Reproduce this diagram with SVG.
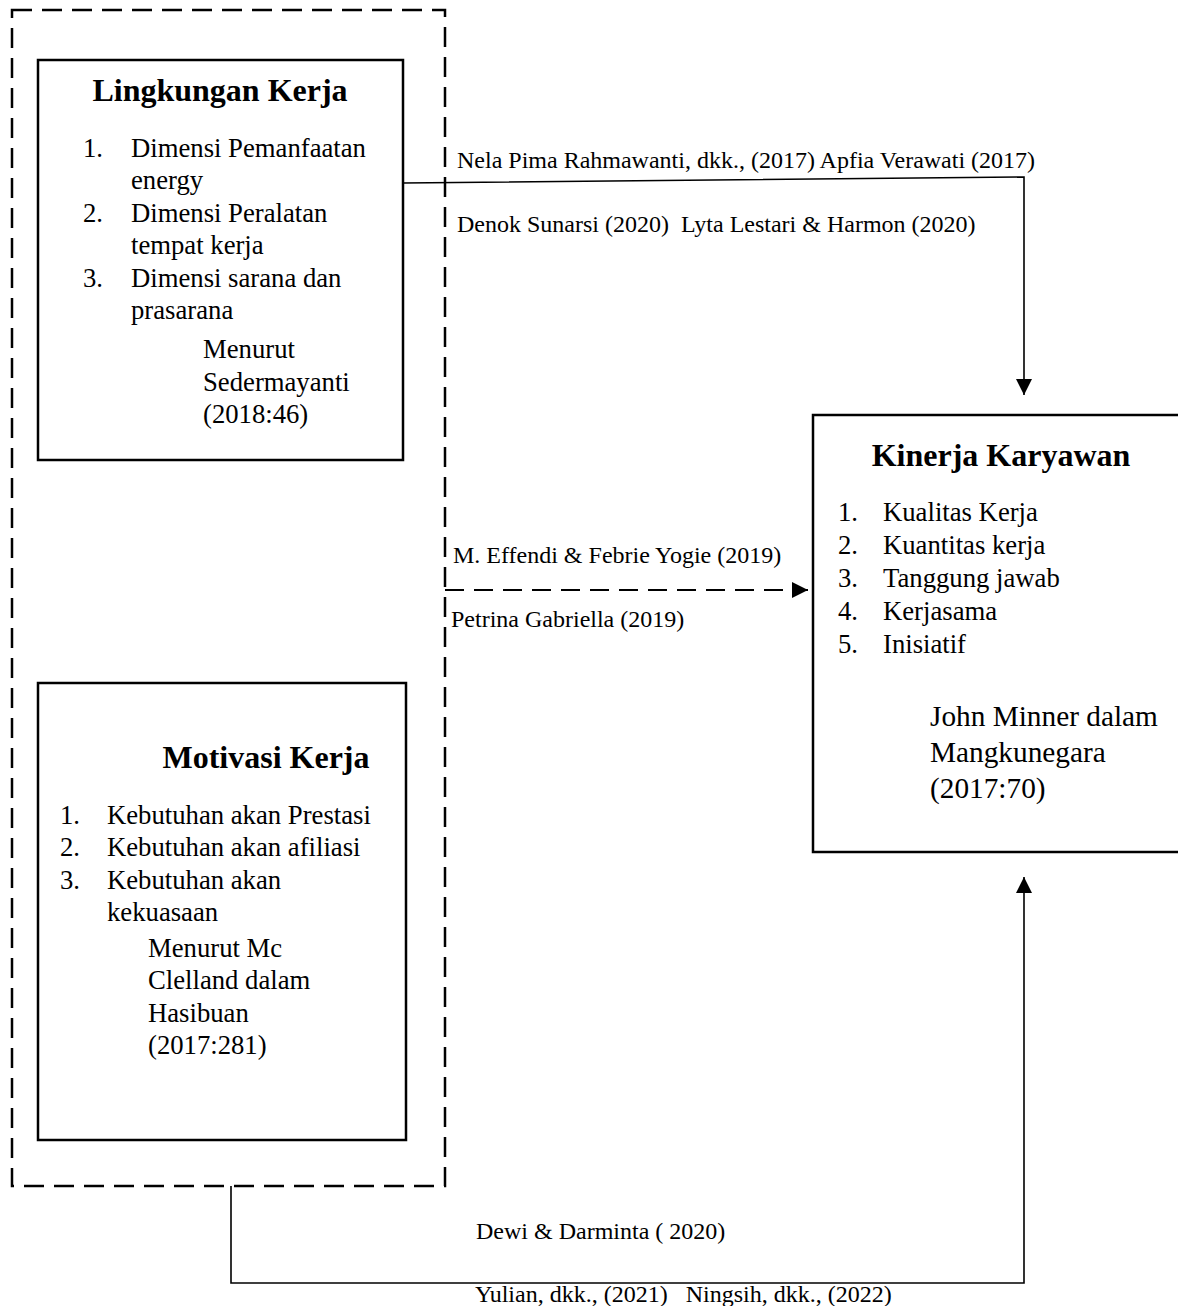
<svg xmlns="http://www.w3.org/2000/svg" width="1178" height="1306" viewBox="0 0 1178 1306">
<style>
text{font-family:"Liberation Serif","Times New Roman",serif;fill:#000}
.title{font-size:32px;font-weight:bold}
.body{font-size:26.7px}
.src{font-size:29.3px}
.lbl{font-size:24px}
.box{fill:#fff;stroke:#000;stroke-width:2.5}
.conn{fill:none;stroke:#000;stroke-width:1.6}
</style>
<defs>
<marker id="ah" markerUnits="userSpaceOnUse" markerWidth="18" markerHeight="16" refX="16" refY="8" orient="auto">
<path d="M0,0 L16,8 L0,16 Z" fill="#000"/>
</marker>
</defs>
<rect id="group-boundary" x="12" y="10" width="433" height="1176" fill="none" stroke="#000" stroke-width="2.5" stroke-dasharray="20 10"/>
<g id="lingkungan-kerja">
<rect class="box" x="38" y="60" width="365" height="400"/>
<text class="title" x="220" y="101" text-anchor="middle">Lingkungan Kerja</text>
<text class="body" x="83" y="157">1.</text>
<text class="body" x="131" y="157">Dimensi Pemanfaatan</text>
<text class="body" x="131" y="189">energy</text>
<text class="body" x="83" y="222">2.</text>
<text class="body" x="131" y="222">Dimensi Peralatan</text>
<text class="body" x="131" y="254">tempat kerja</text>
<text class="body" x="83" y="287">3.</text>
<text class="body" x="131" y="287">Dimensi sarana dan</text>
<text class="body" x="131" y="319">prasarana</text>
<text class="body" x="203" y="358">Menurut</text>
<text class="body" x="203" y="391">Sedermayanti</text>
<text class="body" x="203" y="423">(2018:46)</text>
</g>
<g id="motivasi-kerja">
<rect class="box" x="38" y="683" width="368" height="457"/>
<text class="title" x="266" y="768" text-anchor="middle">Motivasi Kerja</text>
<text class="body" x="60" y="824">1.</text>
<text class="body" x="107" y="824">Kebutuhan akan Prestasi</text>
<text class="body" x="60" y="856">2.</text>
<text class="body" x="107" y="856">Kebutuhan akan afiliasi</text>
<text class="body" x="60" y="889">3.</text>
<text class="body" x="107" y="889">Kebutuhan akan</text>
<text class="body" x="107" y="921">kekuasaan</text>
<text class="body" x="148" y="957">Menurut Mc</text>
<text class="body" x="148" y="989">Clelland dalam</text>
<text class="body" x="148" y="1022">Hasibuan</text>
<text class="body" x="148" y="1054">(2017:281)</text>
</g>
<g id="kinerja-karyawan">
<rect class="box" x="813" y="415" width="380" height="437"/>
<text class="title" x="1001" y="466" text-anchor="middle">Kinerja Karyawan</text>
<text class="body" x="838" y="521">1.</text>
<text class="body" x="883" y="521">Kualitas Kerja</text>
<text class="body" x="838" y="554">2.</text>
<text class="body" x="883" y="554">Kuantitas kerja</text>
<text class="body" x="838" y="587">3.</text>
<text class="body" x="883" y="587">Tanggung jawab</text>
<text class="body" x="838" y="620">4.</text>
<text class="body" x="883" y="620">Kerjasama</text>
<text class="body" x="838" y="653">5.</text>
<text class="body" x="883" y="653">Inisiatif</text>
<text class="src" x="930" y="726">John Minner dalam</text>
<text class="src" x="930" y="762">Mangkunegara</text>
<text class="src" x="930" y="798">(2017:70)</text>
</g>
<g id="connectors">
<polyline class="conn" points="403,183 1024,177 1024,395" marker-end="url(#ah)"/>
<line x1="445" y1="590" x2="808" y2="590" stroke="#000" stroke-width="2.2" stroke-dasharray="19 10" marker-end="url(#ah)"/>
<polyline class="conn" points="231,1186 231,1283 1024,1283 1024,877" marker-end="url(#ah)"/>
<text class="lbl" x="457" y="168">Nela Pima Rahmawanti, dkk., (2017) Apfia Verawati (2017)</text>
<text class="lbl" x="457" y="232" xml:space="preserve">Denok Sunarsi (2020)  Lyta Lestari &amp; Harmon (2020)</text>
<text class="lbl" x="453" y="563">M. Effendi &amp; Febrie Yogie (2019)</text>
<text class="lbl" x="451" y="627">Petrina Gabriella (2019)</text>
<text class="lbl" x="476" y="1239">Dewi &amp; Darminta ( 2020)</text>
<text class="lbl" x="475" y="1302" xml:space="preserve">Yulian, dkk., (2021)   Ningsih, dkk., (2022)</text>
</g>
</svg>
